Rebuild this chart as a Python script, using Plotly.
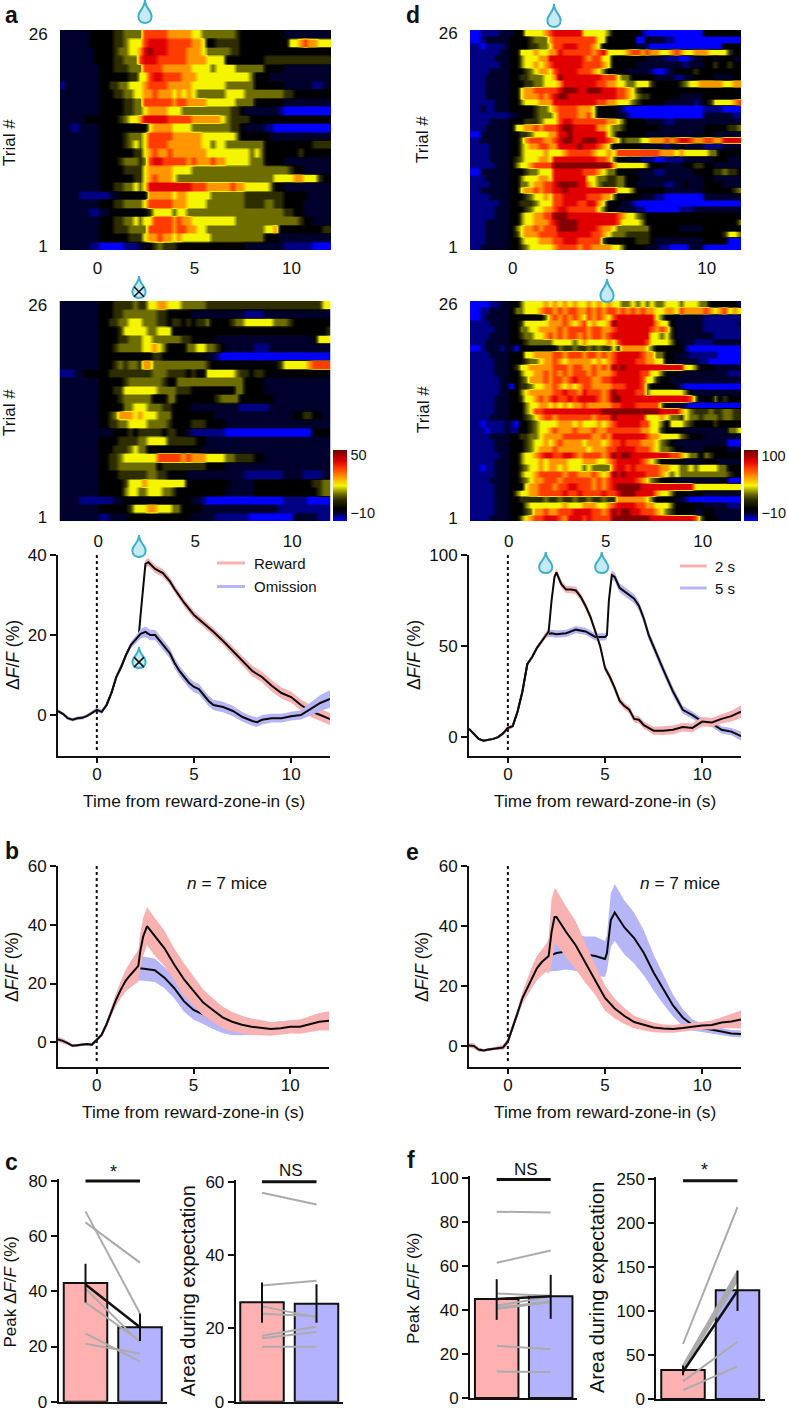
import plotly.graph_objects as go

W, H = 788, 1412
FONT = "Liberation Sans"
TS = 17

# ---------------- heatmap data: levels on the colour bar, 0.25 s columns, top row first
LEVEL_FRAC = [0, .07, .11, .17, .30, .38, .50, .62, .74, .84, .97]
COLORSCALE = [[0, "rgb(0,0,255)"], [.07, "rgb(0,0,130)"], [.11, "rgb(0,0,45)"], [.17, "rgb(0,0,0)"],
              [.30, "rgb(45,45,0)"], [.38, "rgb(110,110,0)"], [.50, "rgb(245,245,0)"], [.62, "rgb(255,150,0)"],
              [.74, "rgb(255,60,0)"], [.84, "rgb(225,0,0)"], [1, "rgb(110,0,0)"]]

HEAT_A = [
"22222233 33344555 58888877 77766555 55554333 33333322 22222222",
"22222233 33344566 68999988 88877633 44444333 33333336 67877666",
"22222223 33345566 79a99988 88777655 55544333 33333333 33333333",
"22222223 33344555 89998888 88777766 66333333 33444444 44444444",
"22222222 33344455 58888777 77766665 66665555 55333322 22222222",
"22222222 33333344 66899888 87776666 66666665 33322222 22222222",
"12222222 33445566 67888877 77766666 66555555 33333322 22221122",
"22222222 33344556 67787776 76765555 55666655 55555544 33333333",
"22222222 33333445 58888887 88777766 66665555 33333322 22222222",
"22222222 33333445 56777766 65555555 55544322 22222100 00000000",
"22222333 33334566 79999988 88877777 76544443 33333333 33333333",
"22112222 33333333 33677776 66655555 55544322 22110000 00000000",
"22222222 33333455 56888887 77777666 66665333 33322222 22222222",
"22222222 33333456 56888877 77777665 66555555 55333333 33334444",
"22222222 33333334 46787787 77777766 66666665 65333333 34333333",
"22222222 33334555 45899888 88787778 77666665 55333322 22222222",
"22222222 33333444 46777776 66655555 55555555 55555554 33222222",
"22222222 33333334 46787776 55555555 55555555 55556666 77666433",
"22222222 33344556 56999999 99988877 77787766 66653322 22222222",
"22221111 11223333 33777776 77666665 55555544 44444433 33322222",
"22222222 33344555 56888887 77666655 55555544 44554433 33222222",
"22222211 22333333 33466665 66555555 55555555 55555544 33222222",
"22222222 33344556 56688887 87766666 66665555 55555555 54332222",
"22222222 33344455 55888887 88776655 55555555 55667333 33333344",
"22222222 33333344 46778776 76666665 55555555 55333222 22222222",
"22222211 00000111 22345444 33333333 33333322 22222211 11110000",
]
HEAT_A2 = [
"22222222 33344445 44667766 65555544 44444444 44444444 44444466",
"22222222 33344555 55554433 33322222 22222211 11222222 22222222",
"22222222 33445566 65554434 43434453 33345566 66665554 33333333",
"22222222 33334666 66556663 33333333 33333333 33333333 33333334",
"22222222 33334455 56655555 54433333 22222222 22222222 22223666",
"22222222 33345555 56676533 33556655 43222222 11122222 22222222",
"22222222 33333333 33344333 33333322 10000000 00000000 00000000",
"22222222 33345455 47755555 55555543 33333333 33333466 66678888",
"11122333 33444444 44455544 44343366 66665443 44333333 33333333",
"22222222 33333455 55555433 55555555 55555533 33222222 22222222",
"22222222 33344666 66665555 44433333 33335533 33222222 22222222",
"22222222 33334555 55533355 33333333 45555333 33332222 22222222",
"22222222 33333556 66555443 33322222 22222111 11122222 22222222",
"22222222 33457776 76665553 33333333 22222222 22222222 33443322",
"22222222 33445566 66555543 33344433 33222222 22222222 22222222",
"22222222 22233343 44444344 33211111 11000000 00000000 00003333",
"22222222 33334444 55666644 44443322 22222222 22222222 22222222",
"22222222 33344456 55333333 33333222 22222222 22222222 22222222",
"22222222 33445666 66668888 87877766 66554444 33222222 22222222",
"22222222 33445555 55553444 44444433 33222222 22222222 22222222",
"22222222 33334444 44554433 33222222 22222211 11111122 22111122",
"22222222 33333466 67666666 66333333 33322222 33333333 33334455",
"22222222 33333566 55666554 33333333 33222222 33333333 33333455",
"22221111 11122333 33333333 33322100 00000000 00000011 11100000",
"22222222 33333346 66776665 53333222 22222222 22222111 11111111",
"22222222 11222233 33333333 33322222 11111110 00000000 22222111",
]
HEAT_D = [
"00111122 23366667 89999996 66665333 33310000 00000000 33333333",
"00122222 33334555 78888888 88663333 33003222 11000000 00000000",
"11011112 33334455 68899988 87633333 33221000 00000000 00003333",
"11111122 33666766 77988888 87896666 78878776 67876677 76666433",
"11111222 33566677 99999998 78866333 33332222 11100122 33233322",
"11111122 33566767 89999998 88876333 33222222 22221222 33433433",
"11112222 33345677 68999988 87653333 22222100 12333343 33333333",
"11122222 33445556 67a99999 99988865 53333322 22112233 33222233",
"11122222 33344556 66799999 99887766 55666433 33345667 77776677",
"11122222 33677888 889aaa99 aaa99988 76433333 33333333 33333333",
"11122222 33677787 89aa9999 99999988 76544333 33322222 33333333",
"11111222 33566677 79999999 99887766 65433333 22222212 34666678",
"11211222 33333455 67888877 76333321 00000000 00000000 11110000",
"11111111 22333455 56888877 86333322 10000000 00000000 22222211",
"11112222 33344456 66899888 88887765 33332222 11222222 22222222",
"11122222 36677878 889aa999 99776554 33333332 22222222 33333445",
"00222222 33445666 7799a999 99996533 33332222 22222222 33222222",
"11222222 33578887 789aa99a aa998764 55566777 87899877 88779999",
"11112222 33567788 779999a9 99876333 33322222 12232222 11112222",
"11112222 33566667 66678888 87667688 88888887 77676666 65533333",
"11112222 34566677 69999999 99887533 22211100 11112222 22333222",
"11111222 35667888 8aaaaaaa aaaaa766 66665333 22223344 33222222",
"00222222 33345566 69999998 88765533 33222211 22222233 33445443",
"11122222 33566677 69999999 66554455 33322222 22222222 33222222",
"11112222 33556778 89aaaa99 76544455 33222222 11223222 33332222",
"11222222 33677878 899a9999 99999966 65333333 22222222 33333345",
"11112222 33345667 68899999 88877533 33322211 00000000 22222222",
"11111122 33444566 68899988 99763332 21000000 00000000 00000000",
"11111222 33345667 78998888 88653322 22110000 00011122 22222222",
"11111222 33566778 8aaa9999 99999987 66543333 33333333 33333333",
"11122222 33566777 89aaaa99 99999986 66653333 33333333 33333335",
"11122222 35677878 88aaaa99 99877655 55555333 33322222 33333333",
"11122222 34677788 88999999 98876555 44444333 33333333 33334665",
"11122222 33566677 78899988 88843333 33444322 22222222 33333000",
"11222222 33456666 67888878 87777665 33332221 10000222 00000000",
]
HEAT_D2 = [
"00001122 33566667 67676766 76767665 56565655 66656665 53333331",
"00112222 35566678 87878877 87878878 78787766 77687777 87678676",
"00122222 33333335 78787876 87876899 99999965 33222222 11111111",
"11112222 33466666 77787678 67667a99 99999976 63222222 11111112",
"11111222 33556677 77878888 78877899 99999878 74222222 11111111",
"11112222 33455667 87878878 78878999 99999665 64222222 22111111",
"11122222 33345555 56666567 66667689 99998666 65322211 11222222",
"00122212 20333333 33544544 54544647 77776533 33331000 00000000",
"11112222 33366777 78878887 88787899 99987755 33222111 11100000",
"11111222 33345567 78767777 76767899 99887766 33222221 10000000",
"11111222 34667777 78887887 78787a9a 99999999 99996653 33222222",
"11111222 33566778 78787888 78777899 99988665 33322222 22222111",
"11111122 33457778 78878988 87788999 99986643 32222222 22222222",
"11111122 03445667 78767678 87777888 99985333 33210000 00000000",
"11111122 33567777 78898879 88878a99 99885666 66665322 22222222",
"11111222 33466787 89889899 99878aa9 99999999 99999852 33534333",
"11111222 33356677 67676778 77777889 99888885 32221000 00000000",
"11111222 33356889 99999999 999aaaaa aaaaaaa9 99976544 45445544",
"11112222 33345678 87888888 87888a99 99996667 65546554 55545544",
"11011112 10334566 66777676 66767899 99988665 36665433 33433333",
"11101112 11334566 78777877 78778888 88877664 33332222 22222556",
"11112222 33445567 77788888 87787999 99998776 66654333 22222222",
"11111222 33345667 67877776 77767889 88877765 43222222 22222000",
"11111222 33345677 78777777 67778899 99888765 54332222 33333222",
"11111122 33566789 98899878 88878a9a a9999999 98876553 54333333",
"11111222 33566676 77776667 77667899 99987653 33332222 33322222",
"11011222 33456676 77676665 65555899 89888887 76655656 66655333",
"11111222 33566788 88878877 78767a9a 99998887 65655555 55555433",
"11112222 33456778 88788888 87878999 99876543 33222222 22223000",
"11111222 33367788 87889988 878789aa aaa99999 99999966 66666666",
"11111222 35667788 88898898 8889889a aa999976 65333333 22222222",
"11111222 33444445 44544544 54454477 77776533 33221000 00000000",
"11111222 33356666 66676667 77667899 99887766 65333333 22222111",
"11111222 33345778 77888999 98878a9a a9988876 54333322 33222222",
"11112222 33567889 99879998 98888aaa aaaaa999 99999985 33322222",
]

# ---------------- line panels
A_T_PRE = [-2,-1.75,-1.5,-1.25,-1,-.75,-.5,-.25,0,.25,.5,.75,1,1.25,1.5,1.75,2]
A_Y_PRE = [1,.3,-.8,-1.2,-.8,-.7,-.2,.5,1.3,.8,2.5,5.5,9.5,12,15,17.5,18.8]
A_S_PRE = [.4,.4,.4,.4,.4,.4,.4,.4,.5,.5,.5,.6,.6,.7,.7,.8,.9]
A_REWARD_T = [2.15,2.25,2.4,2.5,2.65,3,3.4,3.75,4,4.5,5,5.5,6,6.5,7,7.5,8,8.5,9,9.5,10,10.5,11,11.5,12]
A_REWARD_Y = [19.5,25,34,37.8,38.2,36.5,35.5,33.5,31.5,28,25,23,20.8,18.5,16,13.5,11,9.5,7.3,5.5,4.5,2.5,1,0,-1]
A_REWARD_S = [.8,.8,.8,1,1,1,1,1,1,1,1,1,1,1,1.1,1.2,1.3,1.3,1.4,1.4,1.4,1.4,1.5,1.5,1.5]
A_OMIT_T = [2.25,2.5,2.75,3,3.25,3.5,3.75,4,4.25,4.5,4.75,5,5.25,5.5,5.75,6,6.5,7,7.5,8,8.25,8.5,9,9.5,10,10.5,10.75,11,11.5,12]
A_OMIT_Y = [20.3,20.8,20,20,18.5,17,15.5,13,11,9.5,8,7,6.5,5,3.5,2.5,2,1,-.5,-1.5,-1.8,-1.2,-.8,-.8,-.3,0,.8,1.5,3,4]
A_OMIT_S = [1.2,1.3,1.3,1.3,1.3,1.3,1.3,1.3,1.3,1.3,1.3,1.3,1.3,1.3,1.3,1.3,1.3,1.3,1.2,1.2,1.2,1.2,1.1,1.1,1.1,1.1,1.4,1.6,2,2.2]

D_T_PRE = A_T_PRE
D_Y_PRE = [4.5,2,-1,-2,-1.5,-1,0,2,5,6,14,25,40,44,49,53,56.5]
D_S_PRE = [.5,.5,.5,.5,.5,.5,.5,.8,1,1,1,1,1,1,1,1.2,1.5]
D_2S_T = [2.1,2.25,2.4,2.5,2.75,3,3.25,3.5,3.75,4,4.25,4.5,4.75,5,5.25,5.5,5.75,6,6.25,6.5,6.75,7,7.25,7.5,8,8.5,9,9.5,10,10.5,11,11.5,12]
D_2S_Y = [58,75,88,90.5,84,81,81,80.5,77,72,66,58,50,38,33,27,20,17,15,10,9.5,6.5,5,3.5,3.5,4,5.5,5,8.5,8,10,11.5,14]
D_2S_S = [2,2,2,2,2,2,2,2,2,2,2,2,2,2,2,2,2,2,2,2,2,2,2,2.2,2.4,2.4,2.4,2.4,2.5,2.5,2.5,3,3.5]
D_5S_T = [2.25,2.5,3,3.5,4,4.5,5,5.1,5.2,5.35,5.5,5.75,6,6.5,6.75,7,7.25,7.5,8,8.5,9,9.5,10,10.5,11,11.5,12]
D_5S_Y = [57,56.5,57,59,58,55,55,56,75,89,88,82,80,76,72,65,56,50,37,25,15,12,8.5,7.5,4,3,.5]
D_5S_S = [2,2,2,2,2,2,2,2,2,2.5,2.5,2.5,2.5,2.5,2.5,2.5,2.5,2.5,2.5,2.5,2.2,2,2,2,2,2,2.5]

B_T_PRE = [-2,-1.75,-1.5,-1.25,-1,-.5,-.25,0,.25,.5,.75,1,1.25,1.5,1.75,2]
B_Y_PRE = [1,.5,-.3,-1.2,-1,-.6,-.8,1,2.5,6,10.5,14.5,18,21,23,25]
B_S_PRE = [.8,.8,.6,.5,.4,.4,.4,.5,.6,1,1.5,2,2.8,3.6,4.3,5]
B_REWARD_T = [2.15,2.25,2.4,2.6,3,3.5,4,4.5,5,5.5,6,6.5,7,7.5,8,8.5,9,9.5,10,10.5,11,11.5,12]
B_REWARD_Y = [26,31,36,39.5,36,32,26.5,21.5,17.5,13.5,11,8.5,7,6,5.3,5,4.5,4.8,5.3,5.3,6.2,7,7.3]
B_REWARD_S = [5.5,6,6.5,6.5,6.5,6,5.5,5.5,5,4.5,4,3.7,3.3,3,2.8,2.6,2.3,2.3,2.3,2.4,2.7,3,3.3]
B_OMIT_T = [2.1,2.25,3,3.5,4,4.5,5,5.5,6,6.5,7,8,9,10,12]
B_OMIT_Y = [25,25.2,24.5,22,18.5,14,11,9.5,7.5,6,5,4.5,4.8,5.5,6.5]
B_OMIT_S = [4,4.2,4,3.6,3.5,3.5,3.3,3.3,3,2.8,2.6,2,2,2,2]

E_T_PRE = B_T_PRE
E_Y_PRE = [.2,0,-1.2,-1.5,-1.2,-.7,-.5,1.5,6,11,16,19.5,23,26,28,29.5]
E_S_PRE = [.8,.8,.6,.5,.4,.5,.8,1,1,1.2,1.8,2.7,3.4,4,4.3,4.7]
E_2S_T = [2.1,2.25,2.4,2.5,3,3.5,4,4.5,5,5.5,6,6.5,7,7.5,8,8.5,9,9.5,10,10.5,11,11.5,12]
E_2S_Y = [30,38,43,43,38,33.5,27.5,22,16,12.5,10,8,7,6.2,5.8,5.7,6,6.5,6.8,7,7.8,8.2,8.8]
E_2S_S = [6,11,9.5,9,8.5,8,6.5,5,4.2,3.3,2.7,2.1,1.8,1.6,1.4,1.3,1.3,1.3,1.3,1.5,1.8,2.3,3]
E_5S_T = [2.1,2.5,3,3.5,4,4.5,5,5.1,5.3,5.5,6,6.5,7,7.5,8,8.5,9,9.5,10,10.5,11,11.5,12]
E_5S_Y = [30,31,31.5,31,30.5,30,29,31,42,44.5,39.5,36,31,24.5,19,13.5,9.5,7,6,5.3,4.8,4.2,4]
E_5S_S = [5,6,6,6,6,6.5,6,6,9,9.5,9,8.5,7.5,6,5,3.7,2.8,1.8,1.5,1.3,1.2,1.1,1.2]

# ---------------- bar panels
C1_BARS = [43, 27]
C1_ERR = [(36, 50), (22, 32)]
C1_PAIRS = [(69, 32), (65, 50.4), (41, 21.5), (36, 22), (24.8, 14.5), (21, 17.5)]
C1_MEAN = (42.5, 27)
C2_BARS = [27.1, 26.7]
C2_ERR = [(21.5, 32.5), (21.5, 32)]
C2_PAIRS = [(57, 53.8), (31.7, 33), (26, 23), (24, 23.3), (18, 20.5), (17.3, 19), (15, 15)]
F1_BARS = [45, 46.3]
F1_ERR = [(35.5, 54), (36, 56)]
F1_PAIRS = [(84.7, 84.3), (61.5, 67), (47.5, 46.5), (42, 46), (41, 44), (40.5, 43.5), (23.7, 22.2), (12, 11.8)]
F1_MEAN = (45, 46.3)
F2_BARS = [33, 123.5]
F2_ERR = [(27, 38), (100, 146)]
F2_PAIRS = [(62.5, 218), (38, 145), (36, 142), (35, 138), (33, 135), (20, 65), (10, 37)]
F2_MEAN = (31, 123)

PINK_BAND, BLUE_BAND = "#F9B2B2", "#B6B6F6"
PINK_BAR, BLUE_BAR = "#FFB0B0", "#B2B2FF"
GRAY = "#ABABAB"

fig = go.Figure()
layout = dict(width=W, height=H, margin=dict(l=0, r=0, t=0, b=0, autoexpand=False), autosize=False,
              paper_bgcolor="white", plot_bgcolor="white", showlegend=False,
              font=dict(family=FONT, size=TS, color="#111"), annotations=[], shapes=[])
axis_n = [0]


def fx(p):
    return p / W


def fy(p):
    return 1 - p / H


def add_axes(x0, x1, y0, y1, xr, yr, xa=None, ya=None):
    axis_n[0] += 1
    n = axis_n[0]
    xk, yk = f"xaxis{n}", f"yaxis{n}"
    base = dict(showgrid=False, zeroline=False, tickfont=dict(family=FONT, size=TS, color="#111"))
    layout[xk] = {**base, "domain": [fx(x0), fx(x1)], "range": xr, "anchor": f"y{n}", **(xa or {})}
    layout[yk] = {**base, "domain": [fy(y1), fy(y0)], "range": yr, "anchor": f"x{n}", **(ya or {})}
    return f"x{n}", f"y{n}"


def note(px, py, text, size=TS, angle=0, anchor="center", **kw):
    layout["annotations"].append(dict(x=fx(px), y=fy(py), xref="paper", yref="paper", text=text,
                                      showarrow=False, xanchor=anchor, yanchor="middle", textangle=angle,
                                      font=dict(family=FONT, size=size, color="#111"), **kw))


def drop(cx, top, bot, crossed=False):
    h, w = bot - top, 6.6
    def P(x, y):
        return f"{fx(x):.5f},{fy(y):.5f}"
    path = (f"M{P(cx, top)} C{P(cx, top + h * .35)} {P(cx + w, top + h * .45)} {P(cx + w, top + h * .72)} "
            f"C{P(cx + w, top + h * .92)} {P(cx + 3, bot)} {P(cx, bot)} "
            f"C{P(cx - 3, bot)} {P(cx - w, top + h * .92)} {P(cx - w, top + h * .72)} "
            f"C{P(cx - w, top + h * .45)} {P(cx, top + h * .35)} {P(cx, top)} Z")
    layout["shapes"].append(dict(type="path", path=path, xref="paper", yref="paper",
                                 line=dict(color="#3FAFC8", width=2), fillcolor="#C5EAF4"))
    if crossed:
        c = top + h * .72
        for s in (-1, 1):
            layout["shapes"].append(dict(type="line", xref="paper", yref="paper",
                                         x0=fx(cx - 5), x1=fx(cx + 5), y0=fy(c - 5 * s), y1=fy(c + 5 * s),
                                         line=dict(color="#111", width=1.5)))


def heat(rows, x0, x1, y0, y1, left, vmin, vmax, ticktxt="26", cbar=None, xtl=3):
    z = []
    for r in reversed(rows):
        cells = r.replace(" ", "")
        cells = (cells + cells[-1] * 56)[:56]
        row = [vmin + LEVEL_FRAC[int(c, 16)] * (vmax - vmin) for c in cells]
        z.extend([row, row, row, row])   # keeps rows distinct once zsmooth softens the edges
    n = len(rows)
    xa, ya = add_axes(x0, x1, y0, y1, [left, left + (x1 - x0) / 19.4], [.5, n + .5],
                      dict(tickvals=[0, 5, 10], ticks="outside", ticklen=xtl, tickcolor="rgba(0,0,0,0)"),
                      dict(tickvals=[1, n], ticktext=["1", ticktxt], ticks="outside", ticklen=8,
                           tickcolor="rgba(0,0,0,0)"))
    tr = go.Heatmap(z=z, x0=left + .125, dx=.25, y0=.625, dy=.25, xaxis=xa, yaxis=ya, zmin=vmin, zmax=vmax,
                    zsmooth="best", colorscale=COLORSCALE, showscale=cbar is not None, hoverinfo="skip")
    if cbar:
        tr.colorbar = dict(x=fx(cbar[0]), xanchor="left", xpad=0, y=fy(521), yanchor="bottom", ypad=0,
                           thickness=14, thicknessmode="pixels", len=71, lenmode="pixels", outlinewidth=0,
                           tickvals=cbar[1], ticktext=cbar[2], ticks="", ticklabelposition="outside",
                           tickfont=dict(family=FONT, size=14.5, color="#111"))
    fig.add_trace(tr)


def band(xa, ya, t, y, s, col):
    up = [a + b for a, b in zip(y, s)]
    lo = [a - b for a, b in zip(y, s)]
    fig.add_trace(go.Scatter(x=t + t[::-1], y=up + lo[::-1], xaxis=xa, yaxis=ya, mode="lines", fill="toself",
                             fillcolor=col, line=dict(width=0), hoverinfo="skip"))
    fig.add_trace(go.Scatter(x=t, y=y, xaxis=xa, yaxis=ya, mode="lines", line=dict(color="#0a0a0a", width=2),
                             hoverinfo="skip"))


def line_panel(x0, x1, y0, y1, yr, yticks, pre, under, over, dot_top):
    xa, ya = add_axes(x0, x1, y0, y1, [-2, 12], yr,
                      dict(tickvals=[0, 5, 10], ticks="outside", ticklen=5, ticklabelstandoff=-3, showline=True,
                           linecolor="#111", linewidth=2, tickwidth=2, tickcolor="#111"),
                      dict(tickvals=yticks, ticks="outside", ticklen=6, showline=True, linecolor="#111",
                           linewidth=2, tickwidth=2, tickcolor="#111"))
    tp, yp, sp = pre
    for (t, y, s, col) in (under + over):
        band(xa, ya, tp + t, yp + y, sp + s, col)
    fig.add_trace(go.Scatter(x=[0, 0], y=[yr[0] + (yr[1] - yr[0]) * .03, dot_top], xaxis=xa, yaxis=ya, mode="lines",
                             line=dict(color="#111", width=2, dash="dot"), hoverinfo="skip"))


def bar_panel(ax0, ax1, c0, c1, y0, y1, ymax, yticks, bars, err, pairs, mean, bar_w, sig_y):
    unit = c1 - c0
    pad = 2  # px of headroom so the significance bar is not clipped
    xa, ya = add_axes(ax0, ax1, y0 - pad, y1, [(ax0 - c0) / unit, (ax1 - c0) / unit], [0, ymax * (1 + pad / (y1 - y0))],
                      dict(showticklabels=False, ticks="", showline=True, linecolor="#111", linewidth=2),
                      dict(tickvals=yticks, ticks="outside", ticklen=6, showline=True, linecolor="#111",
                           linewidth=2, tickwidth=2, tickcolor="#111"))
    fig.add_trace(go.Bar(x=[0, 1], y=bars, width=bar_w / unit, xaxis=xa, yaxis=ya, hoverinfo="skip",
                         marker=dict(color=[PINK_BAR, BLUE_BAR], line=dict(color="#111", width=2))))
    for a, b in pairs:
        fig.add_trace(go.Scatter(x=[0, 1], y=[a, b], xaxis=xa, yaxis=ya, mode="lines",
                                 line=dict(color=GRAY, width=2), hoverinfo="skip"))
    if mean:
        fig.add_trace(go.Scatter(x=[0, 1], y=list(mean), xaxis=xa, yaxis=ya, mode="lines",
                                 line=dict(color="#111", width=2.5), hoverinfo="skip"))
    for i, (a, b) in enumerate(err):
        fig.add_trace(go.Scatter(x=[i, i], y=[a, b], xaxis=xa, yaxis=ya, mode="lines",
                                 line=dict(color="#111", width=2), hoverinfo="skip"))
    fig.add_trace(go.Scatter(x=[0, 1], y=[sig_y, sig_y], xaxis=xa, yaxis=ya, mode="lines", cliponaxis=False,
                             line=dict(color="#111", width=3), hoverinfo="skip"))


# heatmaps
heat(HEAT_A, 60, 331, 30, 250, -1.93, -18, 55, xtl=3)
heat(HEAT_A2, 59.5, 330.5, 301, 521, -2.0, -18, 55, cbar=(333, [-10, 50], ["\u221210", "50"]), xtl=5)
heat(HEAT_D, 470, 741, 30, 250, -2.2, -25, 112, xtl=3)
heat(HEAT_D2, 470, 741, 301, 521, -2.0, -25, 112, cbar=(744, [-10, 100], ["\u221210", "100"]), xtl=5)

# line panels: the series drawn last covers the other one
line_panel(58, 330, 555, 756, [-10.25, 40], [0, 20, 40], (A_T_PRE, A_Y_PRE, A_S_PRE),
           [(A_REWARD_T, A_REWARD_Y, A_REWARD_S, PINK_BAND)], [(A_OMIT_T, A_OMIT_Y, A_OMIT_S, BLUE_BAND)], 40)
line_panel(469, 741, 555, 756, [-10.4, 100], [0, 50, 100], (D_T_PRE, D_Y_PRE, D_S_PRE),
           [(D_5S_T, D_5S_Y, D_5S_S, BLUE_BAND)], [(D_2S_T, D_2S_Y, D_2S_S, PINK_BAND)], 100)
line_panel(58, 329, 866, 1067, [-8.4, 60], [0, 20, 40, 60], (B_T_PRE, B_Y_PRE, B_S_PRE),
           [(B_OMIT_T, B_OMIT_Y, B_OMIT_S, BLUE_BAND)], [(B_REWARD_T, B_REWARD_Y, B_REWARD_S, PINK_BAND)], 60)
line_panel(469, 741, 866, 1067, [-7, 60], [0, 20, 40, 60], (E_T_PRE, E_Y_PRE, E_S_PRE),
           [(E_5S_T, E_5S_Y, E_5S_S, BLUE_BAND)], [(E_2S_T, E_2S_Y, E_2S_S, PINK_BAND)], 60)

# bar panels
bar_panel(58.7, 167, 85.5, 140, 1181, 1401.7, 80, [0, 20, 40, 60, 80], C1_BARS, C1_ERR, C1_PAIRS, C1_MEAN, 43.5, 80)
bar_panel(235.7, 343, 262, 316.5, 1181.7, 1401.7, 60, [0, 20, 40, 60], C2_BARS, C2_ERR, C2_PAIRS, None, 43.5, 60)
bar_panel(470, 577, 496.7, 550.7, 1178, 1398, 100, [0, 20, 40, 60, 80, 100], F1_BARS, F1_ERR, F1_PAIRS, F1_MEAN, 43.5, 99.3)
bar_panel(656.3, 764.7, 683, 737.5, 1179, 1399, 250, [0, 50, 100, 150, 200, 250], F2_BARS, F2_ERR, F2_PAIRS, F2_MEAN, 43.5, 248)

# panel letters
for px, py, t in [(3, 15, "a"), (404, 15, "d"), (3, 851, "b"), (404, 852, "e"), (3, 1162, "c"), (405, 1160, "f")]:
    note(px, py, f"<b>{t}</b>", size=23, anchor="left")

# axis labels
for px, py in [(10, 143), (10, 413), (423, 140), (423, 410)]:
    note(px, py, "Trial #", angle=-90)
DFF = "\u0394<i>F</i>/<i>F</i> (%)"
for px, py in [(13, 655), (414, 655), (12, 967), (422, 967)]:
    note(px, py, DFF, angle=-90, size=17.5)
for px, py in [(194, 801.5), (605, 801.5), (193, 1111.5), (605, 1111.5)]:
    note(px, py, "Time from reward-zone-in (s)", size=17.3)
for px, py in [(10, 1291.5), (413, 1288)]:
    note(px, py, "Peak " + DFF, angle=-90, size=17)
for px, py in [(187, 1291.5), (597, 1288)]:
    note(px, py, "Area during expectation", angle=-90, size=20)
note(226.7, 882.5, "<i>n</i> = 7 mice", size=17.3)
note(680, 882.5, "<i>n</i> = 7 mice", size=17.3)
note(114, 1172, "*", size=18)
note(291, 1170, "NS", size=17)
note(526, 1169, "NS", size=17)
note(704.7, 1170, "*", size=18)

# legends
for x0, x1, tx, py, col, t in [(217, 245, 252, 563, PINK_BAND, "Reward"), (217, 245, 252, 586.5, BLUE_BAND, "Omission"),
                               (680, 706.7, 713, 566, PINK_BAND, "2 s"), (680, 706.7, 713, 588, BLUE_BAND, "5 s")]:
    layout["shapes"].append(dict(type="line", xref="paper", yref="paper", x0=fx(x0), x1=fx(x1), y0=fy(py), y1=fy(py),
                                 line=dict(color=col, width=3)))
    note(tx, py, t, size=15, anchor="left")

# drops
drop(145, 0, 23)
drop(139, 276, 298, crossed=True)
drop(554, 4, 27)
drop(607, 279, 302)
drop(139, 535, 557)
drop(139, 647, 668, crossed=True)
drop(545.7, 552, 573)
drop(601.7, 552, 573)

fig.update_layout(**layout)
fig.write_html("out.html", post_script="document.body.style.margin='0';", config={"displayModeBar": False})
